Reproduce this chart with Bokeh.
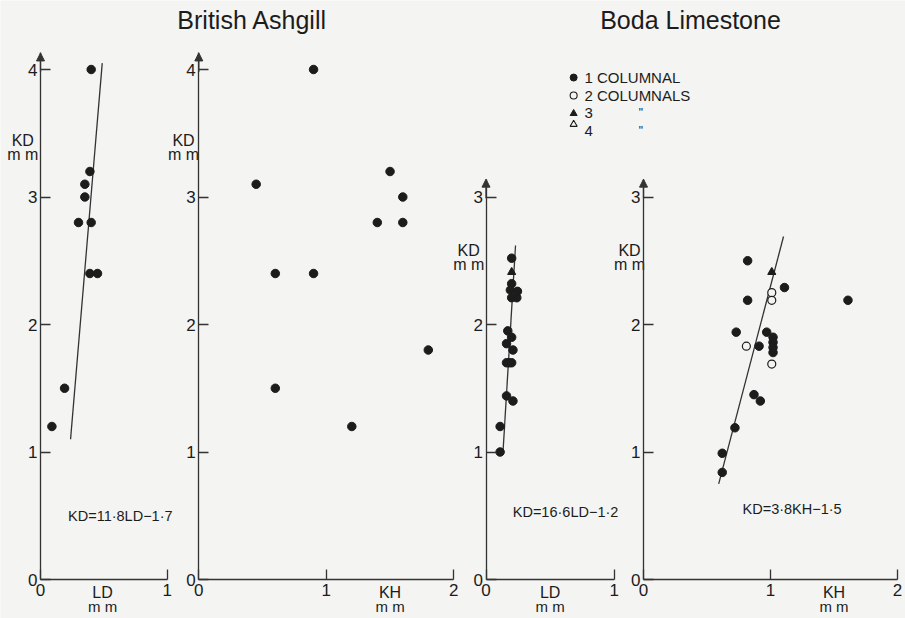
from bokeh.plotting import figure
from bokeh.models import Range1d, LinearAxis, FixedTicker, Arrow, NormalHead
from bokeh.core.properties import value
from bokeh.embed import file_html
from bokeh.resources import INLINE

# ---------------- data ----------------
# British Ashgill - KD against LD
ash_ld = [0.40, 0.39, 0.35, 0.35, 0.30, 0.40, 0.39, 0.45, 0.19, 0.09]
ash_ld_kd = [4.0, 3.2, 3.1, 3.0, 2.8, 2.8, 2.4, 2.4, 1.5, 1.2]
# British Ashgill - KD against KH
ash_kh = [0.90, 0.45, 1.50, 1.60, 1.40, 1.60, 0.60, 0.90, 1.80, 0.60, 1.20]
ash_kh_kd = [4.0, 3.1, 3.2, 3.0, 2.8, 2.8, 2.4, 2.4, 1.8, 1.5, 1.2]

# Boda Limestone - KD against LD
boda_ld_1 = [0.20, 0.20, 0.19, 0.245, 0.20, 0.24, 0.17, 0.20, 0.16, 0.21,
             0.16, 0.18, 0.20, 0.16, 0.21, 0.11, 0.11]
boda_ld_1_kd = [2.52, 2.32, 2.27, 2.26, 2.21, 2.21, 1.95, 1.90, 1.85, 1.80,
                1.70, 1.70, 1.70, 1.44, 1.40, 1.20, 1.00]
boda_ld_3 = [0.20]
boda_ld_3_kd = [2.41]

# Boda Limestone - KD against KH
boda_kh_1 = [0.82, 0.82, 1.11, 1.61, 0.73, 0.97, 0.91, 1.02, 1.02, 1.02, 1.02,
             0.87, 0.92, 0.72, 0.62, 0.62]
boda_kh_1_kd = [2.50, 2.19, 2.29, 2.19, 1.94, 1.94, 1.83, 1.90, 1.86, 1.82, 1.78,
                1.45, 1.40, 1.19, 0.99, 0.84]
boda_kh_2 = [1.01, 1.01, 0.81, 1.01]
boda_kh_2_kd = [2.25, 2.19, 1.83, 1.69]
boda_kh_3 = [1.01]
boda_kh_3_kd = [2.41]
boda_kh_4 = []
boda_kh_4_kd = []

# fitted lines: slope, intercept, KD extent of the drawn line
ash_fit = (11.8, -1.7)
ash_fit_kd = [1.1, 4.05]
boda_ld_fit = (16.6, -1.2)
boda_ld_fit_kd = [1.0, 2.62]
boda_kh_fit = (3.8, -1.5)
boda_kh_fit_kd = [0.75, 2.69]

equations = ["KD=11·8LD−1·7", "KD=16·6LD−1·2", "KD=3·8KH−1·5"]
titles = ["British Ashgill", "Boda Limestone"]
legend_labels = ["1 COLUMNAL", "2 COLUMNALS", "3", "4"]

ticks_ld = [0, 1]
ticks_kh = [0, 1, 2]
ticks_kd_ash = [0, 1, 2, 3, 4]
ticks_kd_boda = [0, 1, 2, 3]

# ---------------- layout / style ----------------
W, H = 905, 618
BG = "#f4f4f2"
INK = "#1c1c1c"
AX = "#333333"
FONT = "Liberation Sans"

Y0, YU = 579.0, 127.5          # canvas y of KD=0, px per mm
# canvas x of each panel's origin, px per mm
panels = {
    "p1": (40.0, 126.7),
    "p2": (198.3, 127.5),
    "p3": (485.5, 128.3),
    "p4": (643.0, 127.0),
}


def xr(name):
    ox, u = panels[name]
    return Range1d(-ox / u, (W - ox) / u)


p = figure(width=W, height=H, output_backend="svg", toolbar_location=None,
           x_range=xr("p1"), y_range=Range1d(-(H - Y0) / YU, Y0 / YU),
           x_axis_type=None, y_axis_type=None, min_border=0,
           outline_line_color=None, background_fill_color=BG, border_fill_color=BG)
p.extra_x_ranges = {"p2": xr("p2"), "p3": xr("p3"), "p4": xr("p4")}
rn = {"p1": "default", "p2": "p2", "p3": "p3", "p4": "p4"}


def style_axis(a, size="17px"):
    a.axis_line_color = AX
    a.axis_line_width = 1.3
    a.major_tick_line_color = AX
    a.major_tick_line_width = 1.3
    a.major_tick_in = 10
    a.major_tick_out = 0
    a.minor_tick_line_color = None
    a.major_label_text_font = FONT
    a.major_label_text_font_size = size
    a.major_label_text_color = INK


def add_axes(name, xticks, yticks, ytop):
    xa = LinearAxis(x_range_name=rn[name], fixed_location=0, bounds=(0, xticks[-1]),
                    ticker=FixedTicker(ticks=xticks))
    style_axis(xa)
    xa.major_label_standoff = 4
    p.add_layout(xa, "below")
    ya = LinearAxis(x_range_name=rn[name], fixed_location=0, bounds=(0, ytop),
                    ticker=FixedTicker(ticks=yticks))
    style_axis(ya)
    ya.major_label_standoff = 3
    p.add_layout(ya, "left")
    p.add_layout(Arrow(end=NormalHead(size=8, fill_color=AX, line_color=AX, line_width=1),
                       x_start=0, y_start=ytop - 0.15, x_end=0, y_end=ytop,
                       line_color=AX, line_width=1.3, x_range_name=rn[name]))


add_axes("p1", ticks_ld, ticks_kd_ash, 4.13)
add_axes("p2", ticks_kh, ticks_kd_ash, 4.13)
add_axes("p3", ticks_ld, ticks_kd_boda, 3.14)
add_axes("p4", ticks_kh, ticks_kd_boda, 3.14)


def txt(name, x, y, t, size="15px", align="center", baseline="middle"):
    p.text(x=x, y=y, text=t, x_range_name=rn[name], text_font=value(FONT),
           text_font_size=size, text_color=INK, text_align=align,
           text_baseline=baseline)


def fit_line(name, fit, kd):
    a, b = fit
    p.line(x=[(k - b) / a for k in kd], y=kd, line_color=AX, line_width=1.3,
           x_range_name=rn[name])


def dots(name, x, y):
    p.scatter(x=x, y=y, size=8.5, fill_color=INK, line_color=INK, x_range_name=rn[name])


def open_dots(name, x, y):
    p.scatter(x=x, y=y, size=8, fill_color=BG, line_color=INK, line_width=1.2,
              x_range_name=rn[name])


def tri(name, x, y, filled=True):
    p.scatter(x=x, y=y, marker="triangle", size=8,
              fill_color=INK if filled else BG, line_color=INK, line_width=1.1,
              x_range_name=rn[name])


# panel 1
fit_line("p1", ash_fit, ash_fit_kd)
dots("p1", ash_ld, ash_ld_kd)
# panel 2
dots("p2", ash_kh, ash_kh_kd)
# panel 3
fit_line("p3", boda_ld_fit, boda_ld_fit_kd)
dots("p3", boda_ld_1, boda_ld_1_kd)
tri("p3", boda_ld_3, boda_ld_3_kd)
# panel 4
fit_line("p4", boda_kh_fit, boda_kh_fit_kd)
dots("p4", boda_kh_1, boda_kh_1_kd)
open_dots("p4", boda_kh_2, boda_kh_2_kd)
tri("p4", boda_kh_3, boda_kh_3_kd)
tri("p4", boda_kh_4, boda_kh_4_kd, filled=False)

# axis titles (two lines, "KD / mm" and "LD|KH / mm")
for name, cx, ky in [("p1", -0.14, 3.44), ("p2", -0.12, 3.44),
                     ("p3", -0.135, 2.58), ("p4", -0.11, 2.58)]:
    txt(name, [cx, cx], [ky, ky - 0.11], ["KD", "m m"], size="16px")
for name, cx, lab in [("p1", 0.49, "LD"), ("p2", 1.5, "KH"),
                      ("p3", 0.5, "LD"), ("p4", 1.5, "KH")]:
    txt(name, [cx], [-0.105], [lab], size="16px")
    txt(name, [cx], [-0.215], ["m m"], size="15px")

# equations
txt("p1", [0.63], [0.50], [equations[0]], size="14.5px")
txt("p3", [0.62], [0.53], [equations[1]], size="14.5px")
txt("p4", [1.17], [0.55], [equations[2]], size="14.5px")

# titles
txt("p2", [0.42], [4.39], [titles[0]], size="25px")
txt("p4", [0.37], [4.39], [titles[1]], size="25px")

# legend of the Boda panels
lx_sym, lx_txt, lx_dit = -0.55, -0.465, -0.02
rows = [3.937, 3.796, 3.655, 3.52]
p.scatter(x=[lx_sym], y=[rows[0]], size=7, fill_color=INK, line_color=INK, x_range_name="p4")
p.scatter(x=[lx_sym], y=[rows[1]], size=7, fill_color=BG, line_color=INK, line_width=1.1,
          x_range_name="p4")
p.scatter(x=[lx_sym], y=[rows[2]], marker="triangle", size=7, fill_color=INK, line_color=INK,
          x_range_name="p4")
p.scatter(x=[lx_sym], y=[rows[3] + 0.05], marker="triangle", size=7, fill_color=BG,
          line_color=INK, line_width=1.1, x_range_name="p4")
txt("p4", [lx_txt] * 4, rows, legend_labels, size="15px", align="left")
txt("p4", [lx_dit, lx_dit], rows[2:], ['"', '"'], size="12px")

open("out.html", "w").write(file_html(p, INLINE))
